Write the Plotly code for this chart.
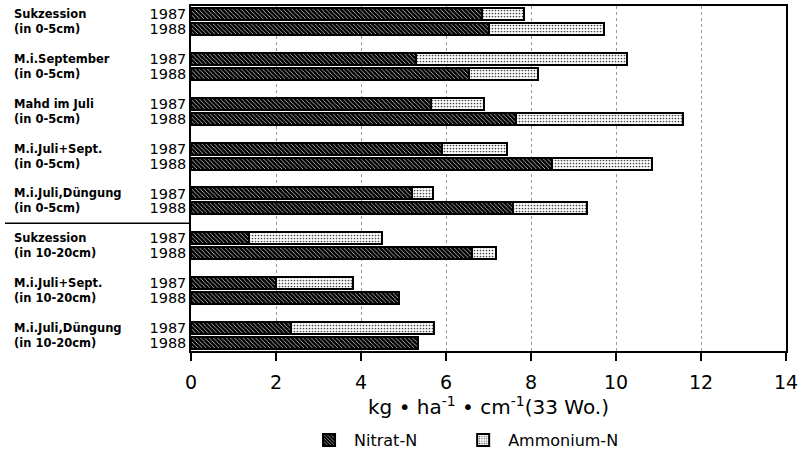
import plotly.graph_objects as go

# ---- data ----
groups = [
    "Sukzession<br>(in 0-5cm)",
    "M.i.September<br>(in 0-5cm)",
    "Mahd im Juli<br>(in 0-5cm)",
    "M.i.Juli+Sept.<br>(in 0-5cm)",
    "M.i.Juli,Düngung<br>(in 0-5cm)",
    "Sukzession<br>(in 10-20cm)",
    "M.i.Juli+Sept.<br>(in 10-20cm)",
    "M.i.Juli,Düngung<br>(in 10-20cm)",
]
years = ["1987", "1988"]
nitrat_1987 = [6.84, 5.29, 5.65, 5.90, 5.19, 1.36, 2.01, 2.36]
nitrat_1988 = [7.01, 6.54, 7.65, 8.49, 7.58, 6.61, 4.89, 5.33]
ammon_1987 = [1.00, 4.96, 1.25, 1.54, 0.50, 3.14, 1.80, 3.36]
ammon_1988 = [2.71, 1.62, 3.93, 2.36, 1.74, 0.57, 0.0, 0.0]
x_ticks = [0, 2, 4, 6, 8, 10, 12, 14]

# ---- build rows (1987 row then 1988 row per group, gap row between groups) ----
ypos, ylab, nit, amm = [], [], [], []
for g in range(len(groups)):
    for k, yr in enumerate(years):
        ypos.append(3 * g + k)
        ylab.append(yr)
        nit.append(nitrat_1987[g] if k == 0 else nitrat_1988[g])
        a = ammon_1987[g] if k == 0 else ammon_1988[g]
        amm.append(a if a > 0 else None)

fig = go.Figure()
fig.add_trace(go.Bar(
    name="Nitrat-N", orientation="h", x=nit, y=ypos, width=0.8, legend="legend",
    marker=dict(color="black", line=dict(color="black", width=2),
                pattern=dict(shape="\\", fgcolor="white", bgcolor="black",
                             size=3, solidity=0.22, fillmode="replace")),
))
fig.add_trace(go.Bar(
    name="Ammonium-N", orientation="h", x=amm, y=ypos, width=0.8, legend="legend2",
    marker=dict(color="white", line=dict(color="black", width=2),
                pattern=dict(shape=".", fgcolor="#444", bgcolor="white",
                             size=3, solidity=0.25, fillmode="replace")),
))

fnt = "DejaVu Sans"
leg_common = dict(orientation="h", xanchor="left", y=-0.258, yanchor="middle",
                  font=dict(family=fnt, size=16), itemwidth=40,
                  bgcolor="rgba(0,0,0,0)")
fig.update_layout(
    barmode="stack",
    width=802, height=468,
    margin=dict(l=191, r=16, t=6, b=117, autoexpand=False),
    paper_bgcolor="white", plot_bgcolor="white",
    font=dict(family=fnt, color="black"),
    showlegend=True,
    legend=dict(x=0.19, **leg_common),
    legend2=dict(x=0.449, **leg_common),
    bargap=0,
)
fig.update_xaxes(
    range=[0, 14], tickvals=x_ticks, ticktext=[str(v) for v in x_ticks],
    ticks="outside", ticklen=8, tickwidth=1.5, tickcolor="black",
    ticklabelstandoff=5,
    showline=True, linecolor="black", linewidth=1.5, mirror=True,
    showgrid=True, gridcolor="#999", griddash="dot", gridwidth=1,
    zeroline=False, automargin=False,
    tickfont=dict(family=fnt, size=19),
    title=dict(text="kg • ha<sup>-1</sup> • cm<sup>-1</sup>(33 Wo.)",
               font=dict(family=fnt, size=20), standoff=4),
)
fig.update_yaxes(
    range=[22.55, -0.55], tickvals=ypos, ticktext=ylab,
    ticks="", showline=True, linecolor="black", linewidth=1.5, mirror=True,
    showgrid=False, zeroline=False, automargin=False,
    tickfont=dict(family=fnt, size=14.5),
)

for g, lab in enumerate(groups):
    fig.add_annotation(
        x=-0.3008, xref="paper", xanchor="left",
        y=3 * g + 0.5, yref="y", yanchor="middle",
        text="<b>" + lab + "</b>", showarrow=False, align="left",
        font=dict(family=fnt, size=11.5, color="black"),
    )

fig.add_shape(type="line", xref="paper", yref="y",
              x0=-0.3126, x1=-0.002, y0=14, y1=14,
              line=dict(color="black", width=1.5))

fig.write_html("out.html", config={"displayModeBar": False},
               post_script="document.body.style.margin='0';document.body.style.padding='0';")
